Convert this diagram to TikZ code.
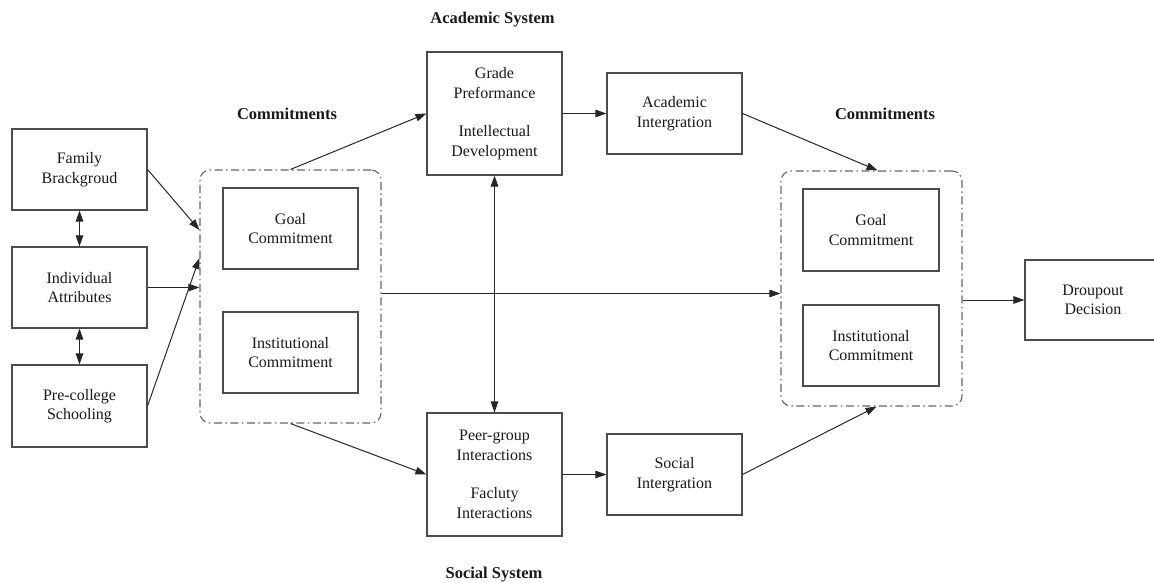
\documentclass[tikz,border=0pt]{standalone}
\usepackage{fontspec}
\setmainfont{Liberation Serif}
\usetikzlibrary{arrows.meta,positioning}
\tikzset{
  box/.style={draw=black!70, line width=1.1pt, fill=white, align=center, inner sep=0pt,
    font=\fontsize{16}{19.5}\selectfont, text=black!90},
  grp/.style={draw=black!60, line width=1.1pt, rounded corners=10pt,
    dash pattern=on 8pt off 3.5pt on 1.5pt off 3.5pt, inner sep=0pt},
  lbl/.style={font=\fontsize{16.5}{20}\selectfont\bfseries, text=black!90},
  arr/.style={draw=black!85, line width=1pt, -{Triangle[length=11pt,width=7.5pt]}},
  darr/.style={draw=black!85, line width=1pt, {Triangle[length=11pt,width=7.5pt]}-{Triangle[length=11pt,width=7.5pt]}}
}
\begin{document}
\begin{tikzpicture}[x=1pt,y=-1pt]
\useasboundingbox (0,0) rectangle (1154,583);
% left column
\node[box, minimum width=135pt, minimum height=81pt] (fam) at (79.5,169.5) {Family\\Brackgroud};
\node[box, minimum width=135pt, minimum height=81pt] (ind) at (79.5,287.5) {Individual\\Attributes};
\node[box, minimum width=135pt, minimum height=82pt] (pre) at (79.5,406) {Pre-college\\Schooling};
% left commitments group
\node[grp, minimum width=181pt, minimum height=253pt] (lbox) at (290.5,296.5) {};
\node[box, minimum width=135pt, minimum height=81pt] (lgoal) at (290.5,228.5) {Goal\\Commitment};
\node[box, minimum width=135pt, minimum height=81pt] (linst) at (290.5,352.5) {Institutional\\Commitment};
\node[lbl] (lcom) at (287,114) {Commitments};
% academic system
\node[lbl] (acs) at (492.5,20) {Academic System};
\node[box, minimum width=135pt, minimum height=123pt] (grade) at (494.5,113.5) {Grade\\Preformance\\[19pt]Intellectual\\Development};
\node[box, minimum width=135pt, minimum height=81pt] (acad) at (674.5,113.5) {Academic\\Intergration};
% social system
\node[box, minimum width=135pt, minimum height=123pt] (peer) at (494.5,474.5) {Peer-group\\Interactions\\[19pt]Facluty\\Interactions};
\node[box, minimum width=135pt, minimum height=81pt] (soc) at (674.5,474.5) {Social\\Intergration};
\node[lbl] (sos) at (494,575) {Social System};
% right commitments group
\node[grp, minimum width=181pt, minimum height=235pt] (rbox) at (871.5,288.5) {};
\node[box, minimum width=136pt, minimum height=82pt] (rgoal) at (871,230) {Goal\\Commitment};
\node[box, minimum width=136pt, minimum height=81pt] (rinst) at (871,345.5) {Institutional\\Commitment};
\node[lbl] (rcom) at (885,114) {Commitments};
% decision
\node[box, minimum width=136pt, minimum height=80pt] (drop) at (1093,300) {Droupout\\Decision};
% connectors
\draw[darr] (fam.south) -- (ind.north);
\draw[darr] (ind.south) -- (pre.north);
\draw[arr] (fam.east) -- ([yshift=66.5pt]lbox.west);
\draw[arr] (ind.east) -- (ind.east -| lbox.west);
\draw[arr] (pre.east) -- ([yshift=38.5pt]lbox.west);
\draw[arr] (lbox.north) -- (grade.west);
\draw[arr] (lbox.south) -- (peer.west);
\draw[darr] (grade.south) -- (peer.north);
\draw[arr] (grade.east) -- (acad.west);
\draw[arr] (peer.east) -- (soc.west);
\draw[arr] (acad.east) -- ([xshift=6pt]rbox.north);
\draw[arr] (soc.east) -- ([xshift=5pt]rbox.south);
\draw[arr] ([yshift=3pt]lbox.east) -- ([yshift=3pt]lbox.east -| rbox.west);
\draw[arr] (drop.west -| rbox.east) -- (drop.west);
\end{tikzpicture}
\end{document}
